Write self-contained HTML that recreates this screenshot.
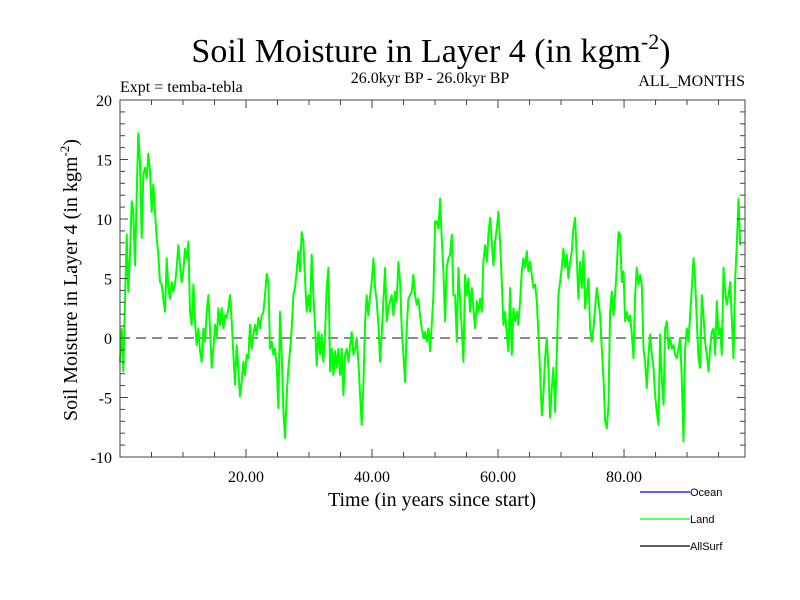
<!DOCTYPE html>
<html><head><meta charset="utf-8"><style>
html,body{margin:0;padding:0;background:#fff;}
svg{display:block;font-family:"Liberation Serif",serif;}
</style></head>
<body>
<svg id="chart" width="800" height="600" viewBox="0 0 800 600" xmlns="http://www.w3.org/2000/svg">
<rect width="800" height="600" fill="#fff"/>
<text x="431" y="62" font-size="34" text-anchor="middle">Soil Moisture in Layer 4 (in kgm<tspan dy="-13" font-size="22">-2</tspan><tspan dy="13">)</tspan></text>
<text x="430" y="83" font-size="16" text-anchor="middle">26.0kyr BP - 26.0kyr BP</text>
<text x="120" y="92" font-size="16">Expt = temba-tebla</text>
<text x="745" y="86" font-size="16" text-anchor="end">ALL_MONTHS</text>
<text x="432" y="506" font-size="20" text-anchor="middle">Time (in years since start)</text>
<text transform="translate(77,280) rotate(-90)" font-size="20" text-anchor="middle">Soil Moisture in Layer 4 (in kgm<tspan dy="-8" font-size="13">-2</tspan><tspan dy="8">)</tspan></text>
<g id="plot"></g>
<g>
<line x1="640" y1="492" x2="690" y2="492" stroke="#0000ff" stroke-width="1.2"/>
<text x="690" y="496" font-size="11" font-family="Liberation Sans, sans-serif">Ocean</text>
<line x1="640" y1="519" x2="690" y2="519" stroke="#00ff00" stroke-width="1.2"/>
<text x="690" y="523" font-size="11" font-family="Liberation Sans, sans-serif">Land</text>
<line x1="640" y1="546" x2="690" y2="546" stroke="#000" stroke-width="1.2"/>
<text x="690" y="550" font-size="11" font-family="Liberation Sans, sans-serif">AllSurf</text>
</g>
</svg>
<script>
const yTickValues=[20,15,10,5,0,-5,-10];
const yTickLabels=["20","15","10","5","0","-5","-10"];
const xTickValues=[20,40,60,80];
const xTickLabels=["20.00","40.00","60.00","80.00"];
const timeStart=0;
const timeStep=0.2646;
const landValues=[
-2,0.8,-2.8,3,8.7,3.9,7,11.5,10.6,6.1,12,17.2,14.8,8.4,13.7,14.3,13.4,15.5,14,10.6,12.9,10.6,8.4,7,4.7,4.5,3.3,2.2,6.7,4.2,3.3,4.7,3.9,4.5,5.9,7.8,6.1,4.7,5.6,7.5,6.7,8.1,2.2,1.1,4.5,1.4,-0.6,0.8,-1.1,-2,0.8,-0.3,2.2,3.6,0.8,-2.5,-0.9,1.1,0,2.5,1.1,2.5,0.8,1.9,1.7,2.5,3.6,1.4,-1.4,-3.9,-0.6,-2.8,-4.9,-3.7,-2,-3.1,-1.4,-1.7,1.1,-0.9,0.3,1.1,0.3,1.7,0.8,1.9,2.2,3.6,5.4,4.7,-0.9,-0.3,-1.4,-0.9,-2.3,-5.9,2.2,
-1.4,-6.2,-8.4,-4.8,-2.5,-1.1,0.8,3.6,4.2,5.6,7.3,5.6,8.9,8.1,5,2.2,3.6,2.2,7,3.6,1.1,-2.3,0.5,-1.4,0.3,-2,0.5,4.2,5.9,-2.8,-0.9,-3.1,-1.1,-2.5,-0.9,-3.1,-0.9,-4.8,-1.4,-0.9,-2,-0.6,0.5,-1.4,-0.9,0,-2,-4.8,-7.3,-3.9,1.4,3.6,1.9,3.6,4.7,6.7,4.2,3.1,1.1,-2,0.3,3.1,5.9,1.4,2.5,3.1,3.6,1.9,3.9,3.1,6.4,4.7,0.8,-1.4,-3.7,0.8,3.3,3.6,3.9,5.3,3.6,2.8,3.3,1.9,0.8,0,0.5,-0.3,0.8,-1.1,1.1,3.6,9.8,
9.8,9.2,11.7,8.4,5.6,1.4,5.9,6.7,7,8.7,3.6,3.6,-0.3,5.9,3.1,0.8,-2,5.3,3.6,5,2.2,4.2,2.5,0.8,3.1,2.2,3.3,2.2,6.4,7.8,6.4,8.7,10.1,8.1,6.1,8.1,9.2,10.6,8.1,4.7,1.1,2.2,0.3,-1.1,4.2,-1.4,2.5,1.4,2.2,1.1,3.1,5.6,6.7,5.9,7.3,5.6,6.4,5.3,4.2,4.5,3.1,0.3,-2.8,-6.5,-4.8,-1.7,0,-2.5,-6.7,-4.2,-2.5,-6.2,-1.4,3.6,4.7,5.9,7.5,5.9,7,5,6.4,7.3,9.2,10.1,6.7,3.3,6.4,4.2,7.3,2.5,3.9,5,0.8,
-0.3,0.8,2.5,4.2,3.1,1.9,-0.9,-3.4,-7,-7.6,-5.6,2.2,3.9,1.9,3.6,5.9,8.9,8.7,4.7,5.6,1.4,2.2,1.4,1.9,0.3,-1.7,3.6,5.9,4.5,5.3,4.5,-0.9,-2,-4.2,-1.4,0.3,-1.4,-2.5,-4.8,-6.2,-7.3,0.3,-3.4,-5.6,0.8,1.4,-0.9,0,-0.9,-0.6,-1.4,-1.7,-0.9,0,-3.4,-8.7,-0.9,0.8,-0.3,1.9,4.2,6.7,5,1.4,-1.7,-2.5,3.6,1.9,-0.3,-1.4,-2.8,-0.9,0.5,0.8,-1.4,3.1,0.3,0.8,-1.4,5.9,3.9,2.8,3.6,4.7,1.7,-1.7,5,7.8,11.7,7.8
];
const NS="http://www.w3.org/2000/svg";
const L=120,R=745,T=100,B=457;
const xMin=0,xMax=99.2,yMin=-10,yMax=20;
function xs(v){return L+(v-xMin)/(xMax-xMin)*(R-L);}
function ys(v){return B-(v-yMin)/(yMax-yMin)*(B-T);}
const plot=document.getElementById('plot');
function mk(tag,attrs){const e=document.createElementNS(NS,tag);for(const k in attrs)e.setAttribute(k,attrs[k]);plot.appendChild(e);return e;}
const zl=mk('line',{x1:L,x2:R,y1:ys(0),y2:ys(0),stroke:'#666','stroke-width':1.5,'stroke-dasharray':'10,6'});


let d='';
landValues.forEach((v,i)=>{const t=timeStart+i*timeStep;d+=(i?'L':'M')+xs(t).toFixed(1)+','+ys(v).toFixed(1);});
const ln=mk('path',{d:d,fill:'none',stroke:'#00ff00','stroke-width':2,'stroke-linejoin':'round'});


const fr=mk('rect',{x:L,y:T,width:R-L,height:B-T,fill:'none',stroke:'#444','stroke-width':1});


for(let v=yMin;v<=yMax;v++){const major=v%5===0;const len=major?8:5;const y=ys(v);
const a=mk('line',{x1:L,x2:L+len,y1:y,y2:y,stroke:'#444'});


const b=mk('line',{x1:R-len,x2:R,y1:y,y2:y,stroke:'#444'});

}
yTickValues.forEach((v,i)=>{const t=mk('text',{x:112,y:ys(v)+6,'font-size':16,'text-anchor':'end'});t.textContent=yTickLabels[i];

});
for(let v=5;v<xMax;v+=5){const major=v%20===0;const len=major?8:5;const x=xs(v);
const a=mk('line',{x1:x,x2:x,y1:B,y2:B-len,stroke:'#444'});


const b=mk('line',{x1:x,x2:x,y1:T,y2:T+len,stroke:'#444'});

}
xTickValues.forEach((v,i)=>{const t=mk('text',{x:xs(v),y:482,'font-size':16,'text-anchor':'middle'});t.textContent=xTickLabels[i];

});
</script>
</body></html>
